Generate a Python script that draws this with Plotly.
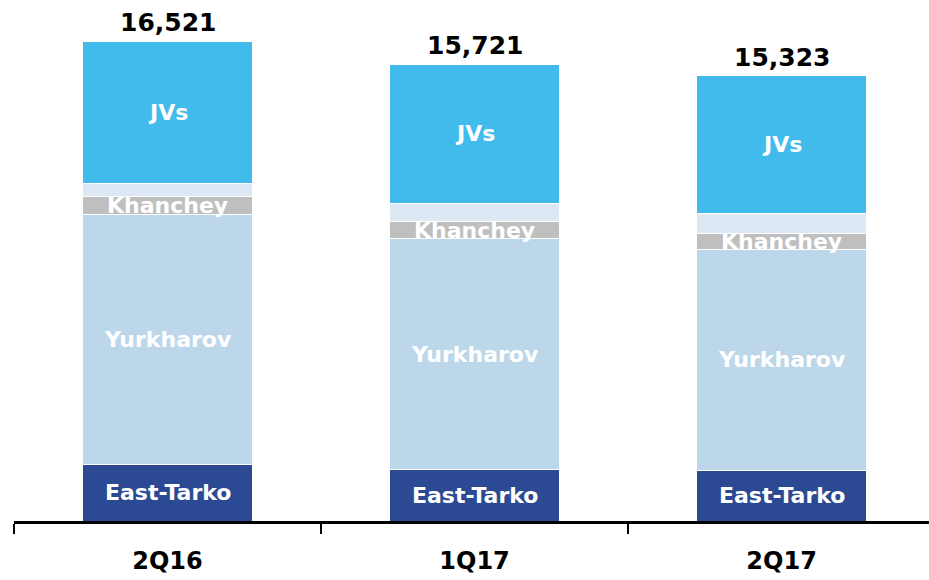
import plotly.graph_objects as go

categories = ["2Q16", "1Q17", "2Q17"]
east_tarko = [1950, 1770, 1750]
yurkharov = [8590, 7950, 7600]
khanchey = [620, 585, 560]
other = [450, 620, 690]
jvs = [4911, 4796, 4723]
totals = [16521, 15721, 15323]

series = [
    ("East-Tarko", east_tarko, "#2B4A93", "East-Tarko"),
    ("Yurkharov", yurkharov, "#BDD7EA", "Yurkharov"),
    ("Khanchey", khanchey, "#BFBFBF", "Khanchey"),
    ("Other", other, "#DCE9F5", None),
    ("JVs", jvs, "#41BBEC", "JVs"),
]

FONT = "DejaVu Sans, sans-serif"

fig = go.Figure()
annotations = []
base = [0] * len(categories)
for name, vals, color, label in series:
    fig.add_trace(go.Bar(
        x=categories, y=vals, name=name, marker=dict(color=color, line=dict(color="white", width=1)),
        width=0.554, hoverinfo="skip",
    ))
    if label:
        for i, c in enumerate(categories):
            annotations.append(dict(
                x=c, y=base[i] + vals[i] / 2, text=f"<b>{label}</b>", showarrow=False,
                font=dict(family=FONT, size=22, color="white"),
                xanchor="center", yanchor="middle",
            ))
    base = [b + v for b, v in zip(base, vals)]

for i, c in enumerate(categories):
    annotations.append(dict(
        x=c, y=totals[i], text=f"<b>{totals[i]:,}</b>", showarrow=False,
        font=dict(family=FONT, size=25, color="black"),
        xanchor="center", yanchor="bottom", yshift=2,
    ))

fig.update_layout(
    barmode="stack", width=929, height=580,
    margin=dict(l=14, r=0, t=0, b=59, pad=0),
    paper_bgcolor="white", plot_bgcolor="white",
    showlegend=False, annotations=annotations,
    xaxis=dict(
        type="category", range=[-0.5, 2.48], showline=True, linewidth=3, linecolor="black",
        ticks="outside", ticklen=10, tickwidth=2, tickcolor="black", tickson="boundaries",
        tickfont=dict(family=FONT, size=24, color="black"),
        ticklabelstandoff=16, showgrid=False, zeroline=False, automargin=False,
        tickvals=categories, ticktext=[f"<b>{c}</b>" for c in categories],
    ),
    yaxis=dict(range=[0, 17932], visible=False, showgrid=False, zeroline=False),
)

fig.write_html(
    "out.html",
    config={"displayModeBar": False},
    post_script="document.body.style.margin='0';document.body.style.overflow='hidden';",
)
